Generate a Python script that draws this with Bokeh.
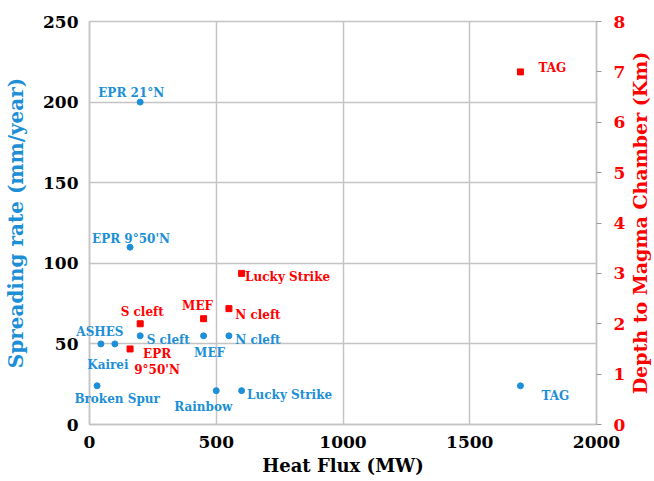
import math
from bokeh.plotting import figure
from bokeh.models import ColumnDataSource, Range1d, LinearAxis, FixedTicker
from bokeh.core.properties import value
from bokeh.embed import file_html
from bokeh.resources import INLINE

# Spreading rate series (blue, left axis)
blue_names = ["EPR 21°N", "EPR 9°50'N", "ASHES", "Kairei", "S cleft", "MEF",
              "N cleft", "Broken Spur", "Rainbow", "Lucky Strike", "TAG"]
blue_heat = [200, 160, 45, 100, 200, 450, 550, 30, 500, 600, 1700]
blue_spread = [200, 110, 50, 50, 55, 55, 55, 24, 21, 21, 24]

# Depth to magma chamber series (red, right axis)
red_names = ["TAG", "Lucky Strike", "N cleft", "MEF", "S cleft", "EPR\n9°50'N"]
red_heat = [1700, 600, 550, 450, 200, 160]
red_depth = [7.0, 3.0, 2.3, 2.1, 2.0, 1.5]

X_MIN, X_MAX = 0, 2000
Y_MIN, Y_MAX = 0, 250
D_MIN, D_MAX = 0, 8
x_ticks = [0, 500, 1000, 1500, 2000]
left_ticks = [0, 50, 100, 150, 200, 250]
right_ticks = [0, 1, 2, 3, 4, 5, 6, 7, 8]
right_title = "Depth to Magma Chamber (Km)"

# label offsets in screen pixels (style; dy positive = downward)
blue_dx = [-9, 1, -1, -7, 28, 6, 29, 20, -13, 48, 35]
blue_dy = [-9, -8, -12, 21, 4, 17, 4, 13, 16, 4, 10]
red_dx = [32, 46, 29, -6, 2, 27]
red_dy = [-4, 4, 6, -13, -12, 13]

BLUE = "#1c8fd6"
RED = "#ff0000"
GRID = "#c4c4c4"
FONT = "DejaVu Serif"

p = figure(frame_width=507, frame_height=403,
           x_range=Range1d(X_MIN, X_MAX), y_range=Range1d(Y_MIN, Y_MAX),
           output_backend="svg", toolbar_location=None,
           min_border_left=89, min_border_right=57, min_border_top=21,
           min_border_bottom=48)
p.extra_y_ranges = {"depth": Range1d(D_MIN, D_MAX)}
p.background_fill_color = "white"
p.outline_line_color = GRID
p.outline_line_width = 1.5

p.xgrid.grid_line_color = GRID
p.ygrid.grid_line_color = GRID
p.xgrid.grid_line_width = 1.5
p.ygrid.grid_line_width = 1.5
p.xgrid.ticker = FixedTicker(ticks=x_ticks)
p.ygrid.ticker = FixedTicker(ticks=left_ticks)

xa = p.xaxis[0]
xa.ticker = FixedTicker(ticks=x_ticks)
xa.axis_label = "Heat Flux (MW)"
ya = p.yaxis[0]
ya.ticker = FixedTicker(ticks=left_ticks)
ya.axis_label = "Spreading rate (mm/year)"
for ax in (xa, ya):
    ax.axis_line_color = GRID
    ax.axis_line_width = 1.5
    ax.major_tick_line_color = None
    ax.minor_tick_line_color = None
    ax.major_tick_out = 0
    ax.major_tick_in = 0
    ax.major_label_text_font = FONT
    ax.major_label_text_font_style = "bold"
    ax.major_label_text_font_size = "17px"
    ax.major_label_text_color = "black"
    ax.axis_label_text_font = FONT
    ax.axis_label_text_font_style = "bold"
xa.axis_label_text_font_size = "18px"
ya.axis_label_text_font_size = "20px"
xa.major_label_standoff = 11
xa.axis_label_standoff = 4
xa.axis_label_text_color = "black"
ya.major_label_standoff = 11
ya.axis_label_standoff = 12
ya.axis_label_text_color = BLUE

ra = LinearAxis(y_range_name="depth", ticker=FixedTicker(ticks=right_ticks))
ra.axis_line_color = GRID
ra.axis_line_width = 1.5
ra.major_tick_line_color = "#999999"
ra.major_tick_out = 5
ra.major_tick_in = 0
ra.minor_tick_line_color = None
ra.major_label_standoff = 12
ra.major_label_text_font = FONT
ra.major_label_text_font_style = "bold"
ra.major_label_text_font_size = "17px"
ra.major_label_text_color = RED
p.add_layout(ra, "right")

bsrc = ColumnDataSource(dict(x=blue_heat, y=blue_spread, name=blue_names,
                             dx=blue_dx, dy=blue_dy))
rsrc = ColumnDataSource(dict(x=red_heat, y=red_depth, name=red_names,
                             dx=red_dx, dy=red_dy))

p.scatter("x", "y", source=bsrc, size=6, color=BLUE, marker="circle")
p.scatter("x", "y", source=rsrc, size=6, color=RED, marker="square",
          y_range_name="depth")

p.text("x", "y", text="name", source=bsrc, x_offset="dx", y_offset="dy",
       text_font=value(FONT), text_font_style="bold", text_font_size="12px",
       text_color=BLUE, text_align="center", text_baseline="middle",
       level="overlay")
p.text("x", "y", text="name", source=rsrc, x_offset="dx", y_offset="dy",
       text_font=value(FONT), text_font_style="bold", text_font_size="12px",
       text_color=RED, text_align="center", text_baseline="middle",
       text_line_height=1.2, y_range_name="depth", level="overlay")

# right axis title, anchored at the right edge / middle of the depth range
p.text(x=[X_MAX], y=[(D_MIN + D_MAX) / 2], text=[right_title],
       x_offset=43, angle=math.pi / 2, y_range_name="depth",
       text_font=value(FONT), text_font_style="bold", text_font_size="19px",
       text_color=RED, text_align="center", text_baseline="middle",
       level="overlay")

open("out.html", "w").write(file_html(p, INLINE))
